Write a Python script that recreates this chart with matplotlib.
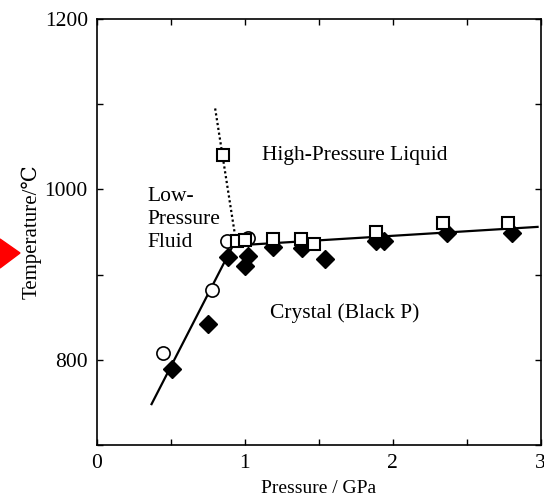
import matplotlib
matplotlib.use('Agg')
import matplotlib.pyplot as plt
from matplotlib.patches import Polygon
from matplotlib.ticker import MultipleLocator

plt.rcParams['font.family'] = ['Liberation Serif', 'DejaVu Serif']

# open circles
circ_p = [0.45, 0.78, 0.88, 1.02]
circ_t = [808, 882, 940, 943]

# open squares
sq_p = [0.85, 0.95, 1.0, 1.19, 1.38, 1.47, 1.89, 2.34, 2.78]
sq_t = [1040, 940, 941, 942, 942, 936, 950, 960, 960]

# filled diamonds
dia_p = [0.51, 0.75, 0.89, 1.0, 1.02, 1.19, 1.39, 1.54, 1.89, 1.94, 2.37, 2.81]
dia_t = [789, 842, 921, 910, 922, 932, 931, 918, 939, 940, 949, 949]

# phase boundaries
solid_p = [0.37, 0.92, 2.98]
solid_t = [748, 934, 956]
dot_p = [0.80, 0.94]
dot_t = [1095, 940]

fig = plt.figure(figsize=(5.44, 4.97), dpi=100)
ax = fig.add_axes([0.178, 0.1046, 0.8156, 0.8572])

ax.plot(solid_p, solid_t, color='black', lw=1.6, zorder=2)
ax.plot(dot_p, dot_t, color='black', lw=1.6, ls=(0, (1, 1.2)), zorder=2)

ax.plot(dia_p, dia_t, 'D', color='black', ms=9, zorder=3)
ax.plot(circ_p, circ_t, 'o', mfc='white', mec='black', mew=1.2, ms=9.5, zorder=4)
ax.plot(sq_p, sq_t, 's', mfc='white', mec='black', mew=1.5, ms=8.5, zorder=5)

ax.text(1.12, 1040, 'High-Pressure Liquid', fontsize=15.5, va='center', ha='left')
ax.text(0.345, 965, 'Low-\nPressure\nFluid', fontsize=15.5, va='center', ha='left',
        linespacing=1.3)
ax.text(1.17, 855, 'Crystal (Black P)', fontsize=15.5, va='center', ha='left')

ax.set_xlim(0, 3)
ax.set_ylim(700, 1200)
ax.set_xticks([0, 1, 2, 3])
ax.set_yticks([800, 1000, 1200])
ax.xaxis.set_minor_locator(MultipleLocator(0.5))
ax.yaxis.set_minor_locator(MultipleLocator(100))
ax.tick_params(which='both', direction='in', top=True, right=True,
               labelsize=15.5, length=4, width=1, pad=6.5)
ax.set_xlabel('Pressure / GPa', fontsize=14, labelpad=5)
ax.set_ylabel('Temperature/℃', fontsize=15, labelpad=2)
for s in ax.spines.values():
    s.set_linewidth(1.2)

# red arrow head at the left edge
fig.patches.append(Polygon([(0, 1 - 239 / 497), (20 / 544, 1 - 253 / 497), (0, 1 - 268 / 497)],
                           closed=True, transform=fig.transFigure, color='red', figure=fig))

fig.savefig('out.png', dpi=100)
